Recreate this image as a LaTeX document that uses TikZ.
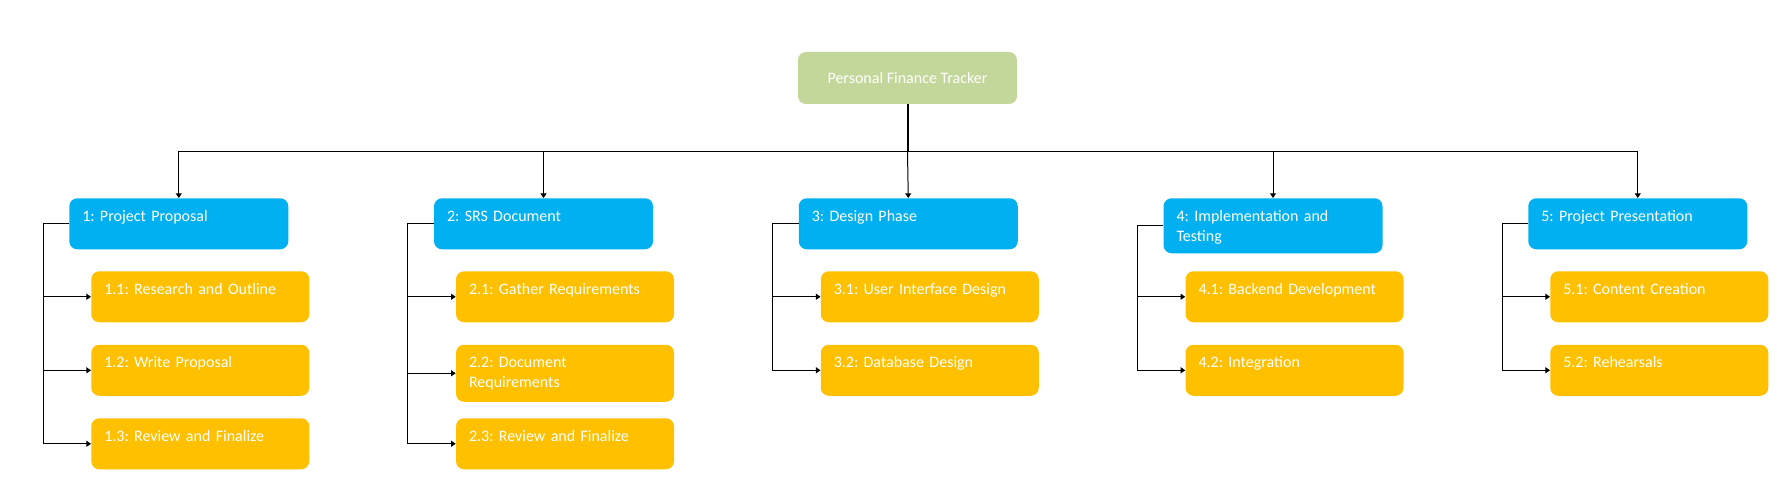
\documentclass[tikz,border=0pt]{standalone}
\usepackage{fontspec}
\setmainfont{Carlito}
\frenchspacing
\usetikzlibrary{arrows.meta}
\definecolor{rootgreen}{HTML}{C4D79B}
\definecolor{phaseblue}{HTML}{00B0F0}
\definecolor{taskgold}{HTML}{FFC000}

\begin{document}
\begin{tikzpicture}[x=0.75pt,y=-0.75pt,
  box/.style={rounded corners=6pt, text=white, font=\fontsize{12}{15}\selectfont, inner sep=0pt},
  rootbox/.style={box, fill=rootgreen, minimum width=164.25pt, minimum height=39pt},
  phase/.style={box, fill=phaseblue, anchor=north west, text width=144.75pt, align=left, inner xsep=9.75pt, text height=17.3pt, text depth=20.95pt},
  task/.style={box, fill=taskgold, anchor=north west, text width=144pt, align=left, inner xsep=9.75pt, text height=17.3pt, text depth=20.95pt},
  link/.style={line width=0.75pt},
  arr/.style={link, -{Triangle[length=3.5pt,width=4.5pt]}},
  stem/.style={line width=1.5pt}]
\useasboundingbox (0,0) rectangle (1788,495);
\node[rootbox] (root) at (907.5,78) {Personal Finance Tracker};
\node[phase] (p1) at (69,198) {1: Project Proposal};
\node[phase] (p2) at (433.75,198) {2: SRS Document};
\node[phase] (p3) at (798.5,198) {3: Design Phase};
\node[phase, text depth=23.95pt] (p4) at (1163.25,198) {4: Implementation and\\Testing};
\node[phase] (p5) at (1528,198) {5: Project Presentation};
\node[task] (c11) at (91,271) {1.1: Research and Outline};
\node[task] (c12) at (91,344.5) {1.2: Write Proposal};
\node[task] (c13) at (91,418) {1.3: Review and Finalize};
\node[task] (c21) at (455.75,271) {2.1: Gather Requirements};
\node[task, text depth=25.45pt] (c22) at (455.75,344.5) {2.2: Document\\Requirements};
\node[task] (c23) at (455.75,418) {2.3: Review and Finalize};
\node[task] (c31) at (820.5,271) {3.1: User Interface Design};
\node[task] (c32) at (820.5,344.5) {3.2: Database Design};
\node[task] (c41) at (1185.25,271) {4.1: Backend Development};
\node[task] (c42) at (1185.25,344.5) {4.2: Integration};
\node[task] (c51) at (1550,271) {5.1: Content Creation};
\node[task] (c52) at (1550,344.5) {5.2: Rehearsals};
\coordinate (bus) at (907.5,152);
\draw[stem] (root.south) -- (bus);
\draw[arr] (bus) -| (p1.north);
\draw[arr] (bus) -| (p2.north);
\draw[arr] (bus) -- (p3.north);
\draw[arr] (bus) -| (p4.north);
\draw[arr] (bus) -| (p5.north);
\draw[arr] (p1.west) -- ++(-26,0) |- (c11.west);
\draw[arr] (p1.west) -- ++(-26,0) |- (c12.west);
\draw[arr] (p1.west) -- ++(-26,0) |- (c13.west);
\draw[arr] (p2.west) -- ++(-26,0) |- (c21.west);
\draw[arr] (p2.west) -- ++(-26,0) |- (c22.west);
\draw[arr] (p2.west) -- ++(-26,0) |- (c23.west);
\draw[arr] (p3.west) -- ++(-26,0) |- (c31.west);
\draw[arr] (p3.west) -- ++(-26,0) |- (c32.west);
\draw[arr] (p4.west) -- ++(-26,0) |- (c41.west);
\draw[arr] (p4.west) -- ++(-26,0) |- (c42.west);
\draw[arr] (p5.west) -- ++(-26,0) |- (c51.west);
\draw[arr] (p5.west) -- ++(-26,0) |- (c52.west);
\end{tikzpicture}
\end{document}
